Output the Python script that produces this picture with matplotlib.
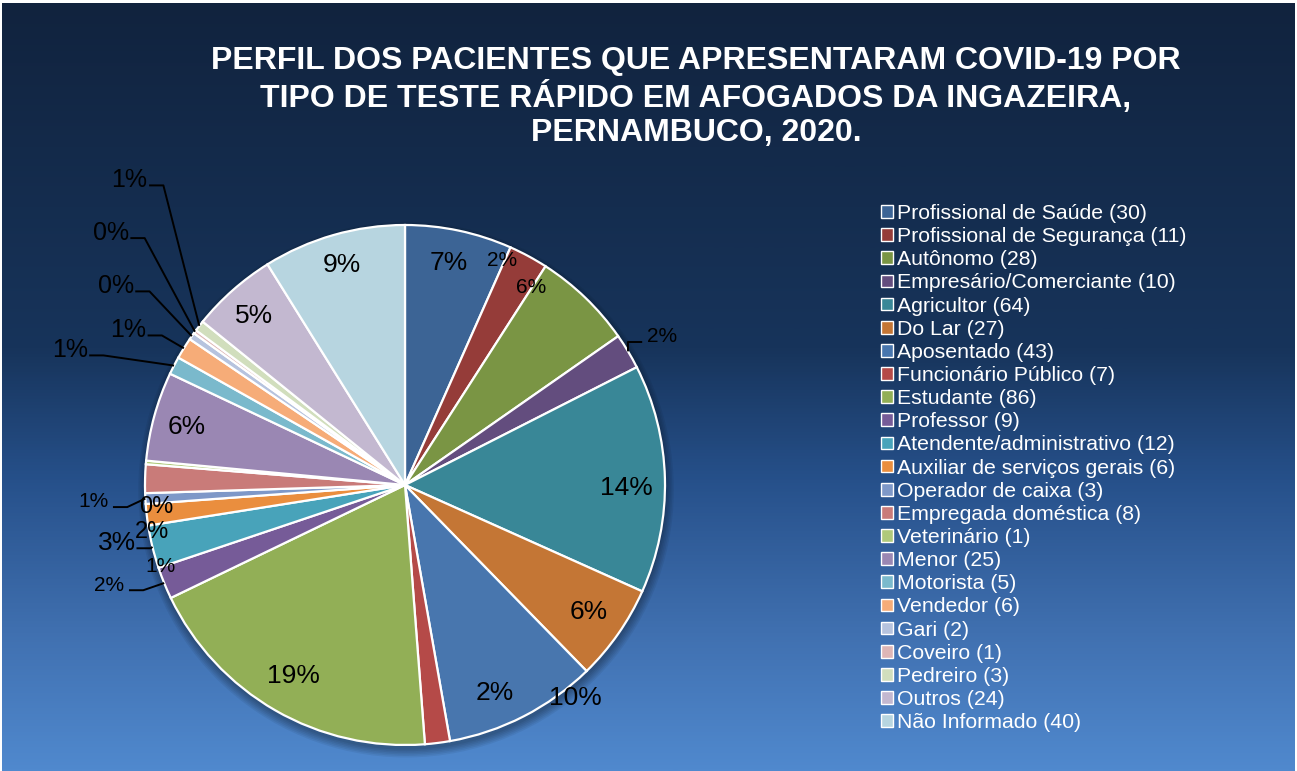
import numpy as np
import matplotlib
matplotlib.use('Agg')
import matplotlib.pyplot as plt
from matplotlib.colors import LinearSegmentedColormap
from matplotlib.patches import Patch, Circle

plt.rcParams['font.family'] = ['Liberation Sans', 'DejaVu Sans']

# Data from the legend
categories = ['Profissional de Saúde', 'Profissional de Segurança', 'Autônomo',
              'Empresário/Comerciante', 'Agricultor', 'Do Lar', 'Aposentado',
              'Funcionário Público', 'Estudante', 'Professor', 'Atendente/administrativo',
              'Auxiliar de serviços gerais', 'Operador de caixa', 'Empregada doméstica',
              'Veterinário', 'Menor', 'Motorista', 'Vendedor', 'Gari', 'Coveiro',
              'Pedreiro', 'Outros', 'Não Informado']
counts = [30, 11, 28, 10, 64, 27, 43, 7, 86, 9, 12, 6, 3, 8, 1, 25, 5, 6, 2, 1, 3, 24, 40]

colors = ['#3C6495', '#953C39', '#7A9544', '#634D7E', '#398797', '#C47635', '#4876AE',
          '#B54A48', '#92AF56', '#765B98', '#48A3BA', '#EA8E3E', '#7E98C8', '#C97B79',
          '#AFC97B', '#9A87B3', '#7AB9CC', '#F6AC78', '#B6C3DE', '#DEB6B6', '#D1DEBD',
          '#C3B8D0', '#B7D5E0']

# label placement (polar angle in degrees, radius in pie radii), font size, leader line
label_ang = [78.8, 66.5, 57.5, 30, -0.8, -34.6, -51.4, -66.6, -120.4, -161.3, -168.6,
             -161.5, -176.9, -169.5, -175.0, 165.2, 158.1, 150.8, 145.5, 139.4, 132.1,
             131.8, 106]
label_r = [0.87, 0.94, 0.9, 1.14, 0.85, 0.86, 1.05, 0.87, 0.85, 1.2, 1.13,
           0.99, 1.2, 0.99, 0.96, 0.87, 1.39, 1.22, 1.35, 1.49, 1.58, 0.87, 0.88]
label_size = [19, 15, 15, 15, 19, 19, 19, 19, 19, 15, 19,
              15, 15, 17, 17, 19, 18, 18, 18, 18, 18, 19, 19]
leader = [False, False, False, True, False, False, False, False, False, True, True,
          False, True, False, False, False, True, True, True, True, True, False, False]

title = ('PERFIL DOS PACIENTES QUE APRESENTARAM COVID-19 POR\n'
         'TIPO DE TESTE RÁPIDO EM AFOGADOS DA INGAZEIRA,\n'
         'PERNAMBUCO, 2020.')

W, H = 1297, 771
cx, cy, R = 405, 485, 260

fig = plt.figure(figsize=(W / 100, H / 100), dpi=100, facecolor='white')

# gradient background
bg = fig.add_axes([2 / W, 0, 1 - 4 / W, 1 - 3 / H])
grad_cmap = LinearSegmentedColormap.from_list(
    'bg', [(0.0, '#11233E'), (0.45, '#17345B'), (0.62, '#26508A'),
           (0.82, '#4070B0'), (1.0, '#5089CE')])
grad = np.linspace(0, 1, 512).reshape(-1, 1)
bg.imshow(grad, aspect='auto', cmap=grad_cmap, extent=[0, 1, 1, 0])
bg.set_axis_off()

ax = fig.add_axes([0, 0, 1, 1])
ax.patch.set_alpha(0)

# soft shadow under the pie
for k in range(6):
    ax.add_patch(Circle((0.004, -0.018), 1.0 + 0.006 * k, color='black',
                        alpha=0.06, lw=0, zorder=0))

total = sum(counts)
wedges, _ = ax.pie(counts, colors=colors, startangle=90, counterclock=False,
                   radius=1.0, wedgeprops=dict(edgecolor='white', linewidth=1.6))
for w in wedges:
    w.set_zorder(2)

for i, w in enumerate(wedges):
    pct = '%d%%' % round(counts[i] / total * 100)
    a = np.deg2rad(label_ang[i])
    lx, ly = label_r[i] * np.cos(a), label_r[i] * np.sin(a)
    ax.text(lx, ly, pct, fontsize=label_size[i], ha='center', va='center',
            color='black', zorder=4)
    if leader[i]:
        mid = np.deg2rad((w.theta1 + w.theta2) / 2)
        ex, ey = np.cos(mid), np.sin(mid)
        side = 1 if lx < ex else -1
        hx0 = lx + side * 0.075
        hx1 = hx0 + side * 0.055
        hy = ly - 0.02
        ax.plot([hx0, hx1, ex], [hy, hy, ey], color='black', lw=1.4,
                zorder=3, solid_capstyle='butt')

ax.set_xlim(-cx / R, (W - cx) / R)
ax.set_ylim((cy - H) / R, cy / R)
ax.set_aspect('equal', adjustable='box')
ax.set_axis_off()

fig.text(696 / W, 1 - 97 / H, title, ha='center', va='center', color='white',
         fontsize=23, fontweight='bold', linespacing=1.2)

handles = [Patch(facecolor=c, edgecolor='white', linewidth=1.0) for c in colors]
labels = ['%s (%d)' % (c, n) for c, n in zip(categories, counts)]
leg = fig.legend(handles, labels, loc='upper left', bbox_to_anchor=(881 / W, 1 - 204 / H),
                 frameon=False, fontsize=15.3, labelcolor='white', handlelength=0.55,
                 handleheight=0.55, handletextpad=0.2, labelspacing=0.195,
                 borderpad=0, borderaxespad=0)

fig.savefig('out.png', dpi=100, facecolor=fig.get_facecolor())
